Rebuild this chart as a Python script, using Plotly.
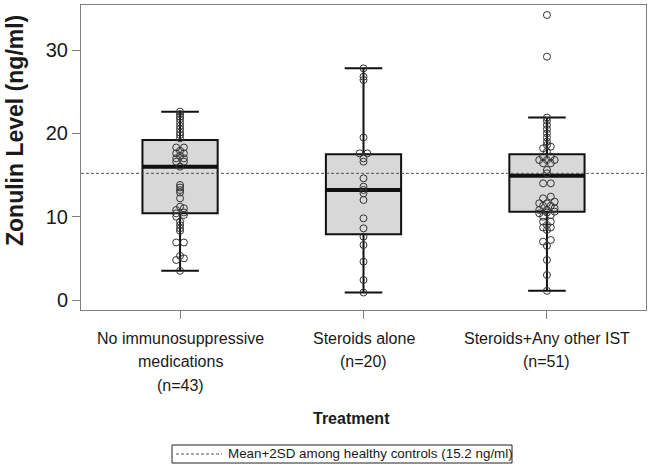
import plotly.graph_objects as go

# ---------------- data ----------------
categories = [
    ["No immunosuppressive", "medications", "(n=43)"],
    ["Steroids alone", "(n=20)"],
    ["Steroids+Any other IST", "(n=51)"],
]

no_ist = [22.6, 22.3, 22.0, 21.7, 21.3, 20.9, 20.5, 20.1, 19.8, 19.4,
          18.3, 18.3, 17.9, 17.6, 17.6, 17.3, 17.0, 17.0, 16.6, 16.6,
          16.0,
          13.8, 13.5, 13.2, 12.9, 12.2,
          11.2, 11.0, 10.8, 10.5, 10.4, 10.2, 10.0,
          9.4, 9.0, 8.6, 8.3,
          6.9, 6.9,
          5.3, 5.0, 4.8,
          3.5]

steroids_alone = [27.8, 26.8, 26.4, 19.5, 17.6, 17.6, 17.0, 16.6, 14.6, 13.6,
                  13.2, 12.8, 12.0, 9.8, 8.6, 7.6, 6.6, 4.6, 2.4, 0.9]

steroids_other_ist = [34.2, 29.2,
                      21.9, 21.5, 21.0, 20.5, 20.0, 19.5, 19.0, 18.6, 18.4, 18.2, 17.8,
                      17.2, 17.2, 16.8, 16.8, 16.8, 16.4, 16.4,
                      15.6, 15.2,
                      14.0, 14.0,
                      12.4, 12.2, 11.8, 11.6, 11.6, 11.3, 11.3, 11.0, 10.8, 10.8,
                      10.6, 10.5, 10.4, 10.2, 10.0,
                      9.4, 9.4, 9.0, 8.7, 8.7, 8.4,
                      7.2, 7.0, 6.5,
                      4.8, 3.0, 1.1]

q1 = [10.4, 7.9, 10.6]
median = [16.0, 13.2, 14.9]
q3 = [19.2, 17.5, 17.5]
lower_fence = [3.5, 0.9, 1.1]
upper_fence = [22.6, 27.8, 21.9]

reference_value = 15.2
reference_label = "Mean+2SD among healthy controls (15.2 ng/ml)"
y_tick_values = [0, 10, 20, 30]
y_title = "Zonulin Level (ng/ml)"
x_title = "Treatment"

groups = [no_ist, steroids_alone, steroids_other_ist]

# ---------------- styling constants ----------------
FONT = "Liberation Sans, Arial, sans-serif"
BOX_WIDTH = 0.41
DODGE_STEP = 0.042
TIE_TOL = 0.25
PLOT_LEFT, PLOT_RIGHT = 81, 646         # pixel columns of the plotting area
PLOT_TOP, PLOT_BOTTOM = 5, 310          # pixel rows of the plotting area
LABEL_FIRST_LINE_PX = 338               # centre of first category-label line
LABEL_LINE_STEP_PX = 23.5
LEGEND_BOX = (172, 445, 512, 463)       # x0, y0, x1, y1 in pixels
LEGEND_SAMPLE = (176, 222)
LEGEND_TEXT_X = 226
DASH_COLOR = "#555555"


def dodge(values, tol=TIE_TOL, step=DODGE_STEP):
    """Spread near-identical values symmetrically side by side."""
    order = sorted(range(len(values)), key=lambda k: values[k])
    offsets = [0.0] * len(values)
    cluster = []

    def flush(cl):
        n = len(cl)
        for j, idx in enumerate(cl):
            offsets[idx] = (j - (n - 1) / 2) * step

    for idx in order:
        if cluster and values[idx] - values[cluster[0]] >= tol:
            flush(cluster)
            cluster = []
        cluster.append(idx)
    if cluster:
        flush(cluster)
    return offsets


def px_x(px):
    return (px - PLOT_LEFT) / (PLOT_RIGHT - PLOT_LEFT)


def px_y(py):
    return (PLOT_BOTTOM - py) / (PLOT_BOTTOM - PLOT_TOP)


fig = go.Figure()

# boxes
for i in range(len(categories)):
    fig.add_trace(go.Box(
        x=[i], q1=[q1[i]], median=[median[i]], q3=[q3[i]],
        lowerfence=[lower_fence[i]], upperfence=[upper_fence[i]],
        width=BOX_WIDTH, whiskerwidth=0.5,
        fillcolor="#d8d8d8",
        line=dict(color="#111111", width=2),
        showlegend=False, hoverinfo="skip", boxpoints=False,
    ))

# thick median bars
mx, my = [], []
for i in range(len(categories)):
    mx += [i - BOX_WIDTH / 2, i + BOX_WIDTH / 2, None]
    my += [median[i], median[i], None]
fig.add_trace(go.Scatter(x=mx, y=my, mode="lines",
                         line=dict(color="#111111", width=4),
                         showlegend=False, hoverinfo="skip"))

# individual points
for i, vals in enumerate(groups):
    offs = dodge(vals)
    fig.add_trace(go.Scatter(
        x=[i + o for o in offs], y=vals, mode="markers",
        marker=dict(symbol="circle-open", size=7, color="#333333",
                    line=dict(width=1, color="#333333")),
        showlegend=False, hoverinfo="skip",
    ))

# reference line
fig.add_shape(type="line", xref="x domain", x0=0, x1=1,
              yref="y", y0=reference_value, y1=reference_value,
              line=dict(color=DASH_COLOR, width=1, dash="3px,2px"),
              layer="above")

# legend box drawn below the chart
lx0, ly0, lx1, ly1 = LEGEND_BOX
fig.add_shape(type="rect", xref="paper", yref="paper",
              x0=px_x(lx0), x1=px_x(lx1), y0=px_y(ly1), y1=px_y(ly0),
              line=dict(color="#222222", width=1), fillcolor="rgba(0,0,0,0)")
fig.add_shape(type="line", xref="paper", yref="paper",
              x0=px_x(LEGEND_SAMPLE[0]), x1=px_x(LEGEND_SAMPLE[1]),
              y0=px_y((ly0 + ly1) / 2), y1=px_y((ly0 + ly1) / 2),
              line=dict(color=DASH_COLOR, width=1, dash="3px,2px"))

annotations = [
    dict(text="<b>" + y_title + "</b>", textangle=-90,
         xref="paper", yref="paper", x=px_x(15), y=px_y(131),
         xanchor="center", yanchor="middle", showarrow=False,
         font=dict(size=23, family=FONT)),
    dict(text="<b>" + x_title + "</b>",
         xref="paper", yref="paper", x=px_x(351), y=px_y(418),
         xanchor="center", yanchor="middle", showarrow=False,
         font=dict(size=16, family=FONT)),
    dict(text=reference_label,
         xref="paper", yref="paper", x=px_x(LEGEND_TEXT_X), y=px_y((ly0 + ly1) / 2),
         xanchor="left", yanchor="middle", showarrow=False,
         font=dict(size=13.4, family=FONT)),
]
for i, lines in enumerate(categories):
    for j, line in enumerate(lines):
        annotations.append(dict(
            text=line, xref="x", yref="paper", x=i,
            y=px_y(LABEL_FIRST_LINE_PX + j * LABEL_LINE_STEP_PX),
            xanchor="center", yanchor="middle", showarrow=False,
            font=dict(size=16, family=FONT)))

fig.update_layout(
    width=653, height=464,
    margin=dict(l=PLOT_LEFT, r=653 - PLOT_RIGHT, t=PLOT_TOP, b=464 - PLOT_BOTTOM,
                autoexpand=False),
    paper_bgcolor="white", plot_bgcolor="white",
    font=dict(family=FONT, color="#1a1a1a", size=16),
    boxmode="overlay",
    showlegend=False,
    xaxis=dict(
        range=[-0.54, 2.54],
        tickmode="array", tickvals=list(range(len(categories))),
        showticklabels=False,
        ticks="outside", ticklen=8, tickcolor="#7f7f7f",
        showline=True, linecolor="#7f7f7f", linewidth=1, mirror=True,
        showgrid=False, zeroline=False,
    ),
    yaxis=dict(
        range=[-1.2, 35.4],
        tickmode="array", tickvals=y_tick_values,
        ticks="outside", ticklen=8, tickcolor="#7f7f7f",
        showline=True, linecolor="#7f7f7f", linewidth=1, mirror=True,
        showgrid=False, zeroline=False,
        tickfont=dict(size=20),
    ),
    annotations=annotations,
)

fig.write_html("out.html", config={"displayModeBar": False},
               post_script="document.body.style.margin='0';"
                           "document.body.style.overflow='hidden';")
